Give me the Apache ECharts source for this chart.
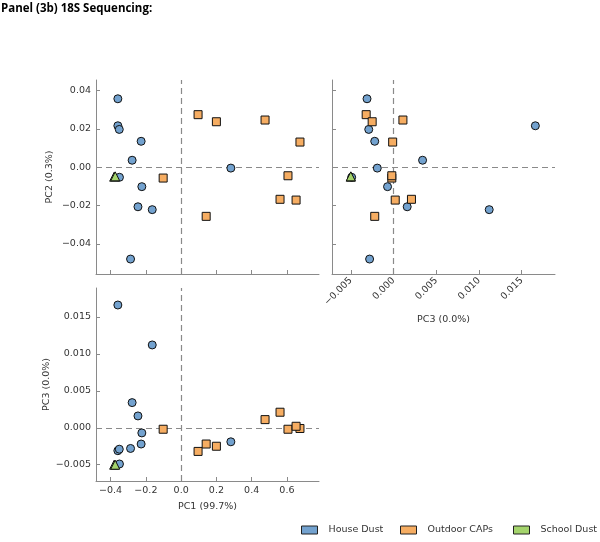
<!DOCTYPE html>
<html>
<head>
<meta charset="utf-8">
<script src="https://cdn.jsdelivr.net/npm/echarts@6/dist/echarts.min.js"></script>
<style>html,body{margin:0;padding:0;background:#fff;}#c{width:600px;height:542px;}</style>
</head>
<body>
<div id="c"></div>
<script>
// ---- data ----
const houseName = 'House Dust';
const outdoorName = 'Outdoor CAPs';
const schoolName = 'School Dust';

const pc1House = [-0.359, -0.359, -0.351, -0.227, -0.278, -0.350, -0.223, -0.245, -0.164, -0.287, 0.282];
const pc2House = [0.0358, 0.0217, 0.0198, 0.0136, 0.0037, -0.0052, -0.0101, -0.0206, -0.0221, -0.0479, -0.0004];
const pc3House = [-0.0031, 0.0166, -0.0029, -0.0022, 0.0034, -0.0049, -0.0007, 0.0016, 0.0112, -0.0028, -0.0019];

const pc1Outdoor = [0.096, 0.200, 0.476, 0.674, -0.102, 0.606, 0.561, 0.652, 0.142];
const pc2Outdoor = [0.0275, 0.0238, 0.0247, 0.0132, -0.0056, -0.0044, -0.0167, -0.0171, -0.0256];
const pc3Outdoor = [-0.0032, -0.0025, 0.0011, -0.0001, -0.0002, -0.0002, 0.0021, 0.0002, -0.0022];

const pc1School = [-0.380, -0.374];
const pc2School = [-0.0049, -0.0047];
const pc3School = [-0.0050, -0.0050];

const pc1Ticks = [-0.4, -0.2, 0.0, 0.2, 0.4, 0.6];
const pc2Ticks = [-0.04, -0.02, 0.00, 0.02, 0.04];
const pc3Ticks = [-0.005, 0.000, 0.005, 0.010, 0.015];

const titleText = 'Panel (3b) 18S Sequencing:';
const pc1Label = 'PC1 (99.7%)';
const pc2Label = 'PC2 (0.3%)';
const pc3Label = 'PC3 (0.0%)';

// ---- styling ----
const colHouse = '#73a2cf';
const colOutdoor = '#f6ad62';
const colSchool = '#a4d46c';
const axisCol = '#8a8a8a';
const txtCol = '#333';
const FONT = 'DejaVu Sans';
const FS = 9.5;

function fmt(d) {
  return function (v) {
    const s = Math.abs(v).toFixed(d);
    return (v < -1e-12 ? '\u2212' : '') + s;
  };
}
const zip = (a, b) => a.map((v, i) => [v, b[i]]);

function mkAxis(o) {
  const ax = {
    type: 'value',
    gridIndex: o.grid,
    min: o.min, max: o.max,
    scale: true,
    splitLine: { show: false },
    axisLine: { show: true, onZero: false, lineStyle: { color: axisCol, width: 1 } },
    axisTick: { show: true, inside: true, length: 4, lineStyle: { color: axisCol }, customValues: o.ticks },
    axisLabel: {
      show: o.labels, customValues: o.ticks, formatter: fmt(o.dec),
      color: txtCol, fontFamily: FONT, fontSize: FS, margin: 5, rotate: o.rotate || 0
    }
  };
  if (o.name) {
    ax.name = o.name;
    ax.nameLocation = 'middle';
    ax.nameGap = o.nameGap;
    ax.nameTextStyle = { color: txtCol, fontFamily: FONT, fontSize: FS };
  }
  return ax;
}

const pc1Range = { min: -0.483, max: 0.782 };
const pc2Range = { min: -0.0557, max: 0.0456 };
const pc3Range = { min: -0.0072, max: 0.0189 };

const xAxes = [
  mkAxis({ grid: 0, ...pc1Range, ticks: pc1Ticks, dec: 1, labels: false }),
  mkAxis({ grid: 1, ...pc3Range, ticks: pc3Ticks, dec: 3, labels: true, rotate: 45, name: pc3Label, nameGap: 41 }),
  mkAxis({ grid: 2, ...pc1Range, ticks: pc1Ticks, dec: 1, labels: true, name: pc1Label, nameGap: 21 })
];
const yAxes = [
  mkAxis({ grid: 0, ...pc2Range, ticks: pc2Ticks, dec: 2, labels: true, name: pc2Label, nameGap: 41 }),
  mkAxis({ grid: 1, ...pc2Range, ticks: pc2Ticks, dec: 2, labels: false }),
  mkAxis({ grid: 2, ...pc3Range, ticks: pc3Ticks, dec: 3, labels: true, name: pc3Label, nameGap: 41 })
];

const markStyle = {
  silent: true, symbol: 'none', z: 1,
  label: { show: false },
  lineStyle: { color: '#8a8a8a', type: [6, 4], width: 1.2 },
  data: [{ xAxis: 0 }, { yAxis: 0 }]
};

function scatter(name, data, idx, color, symbol, withMark) {
  const s = {
    name, type: 'scatter', xAxisIndex: idx, yAxisIndex: idx,
    data, symbol, symbolSize: symbol === 'triangle' ? 9 : 8,
    itemStyle: { color, borderColor: '#111', borderWidth: 1, opacity: 1 },
    emphasis: { disabled: true }, z: 3
  };
  if (withMark) s.markLine = markStyle;
  return s;
}

// panels: [x values, y values] per group
const panels = [
  [[pc1House, pc2House], [pc1Outdoor, pc2Outdoor], [pc1School, pc2School]],
  [[pc3House, pc2House], [pc3Outdoor, pc2Outdoor], [pc3School, pc2School]],
  [[pc1House, pc3House], [pc1Outdoor, pc3Outdoor], [pc1School, pc3School]]
];
const series = [];
panels.forEach((p, i) => {
  series.push(scatter(houseName, zip(p[0][0], p[0][1]), i, colHouse, 'circle', true));
  series.push(scatter(outdoorName, zip(p[1][0], p[1][1]), i, colOutdoor, 'rect', false));
  series.push(scatter(schoolName, zip(p[2][0], p[2][1]), i, colSchool, 'triangle', false));
});

function legendItem(name, left) {
  return {
    data: [name], left, top: 525, orient: 'horizontal', padding: 0,
    icon: 'rect', itemWidth: 16, itemHeight: 8,
    itemStyle: { borderColor: '#222', borderWidth: 1 },
    textStyle: { color: txtCol, fontFamily: FONT, fontSize: FS, padding: [0, 0, 0, 6] },
    selectedMode: false
  };
}

const option = {
  animation: false,
  backgroundColor: '#fff',
  title: {
    text: titleText, left: 1, top: 2, padding: [1, 0, 0, 0],
    textStyle: { fontFamily: 'Open Sans', fontWeight: 'bold', fontSize: 11.5, color: '#000' }
  },
  grid: [
    { left: 96, top: 80, width: 223, height: 194, outerBoundsMode: 'none', containLabel: false },
    { left: 332, top: 80, width: 223, height: 194, outerBoundsMode: 'none', containLabel: false },
    { left: 96, top: 288, width: 223, height: 193, outerBoundsMode: 'none', containLabel: false }
  ],
  xAxis: xAxes,
  yAxis: yAxes,
  legend: [legendItem(houseName, 301), legendItem(outdoorName, 400), legendItem(schoolName, 513)],
  series
};

const chart = echarts.init(document.getElementById('c'), null, { renderer: 'canvas' });
chart.setOption(option);
</script>
</body>
</html>
